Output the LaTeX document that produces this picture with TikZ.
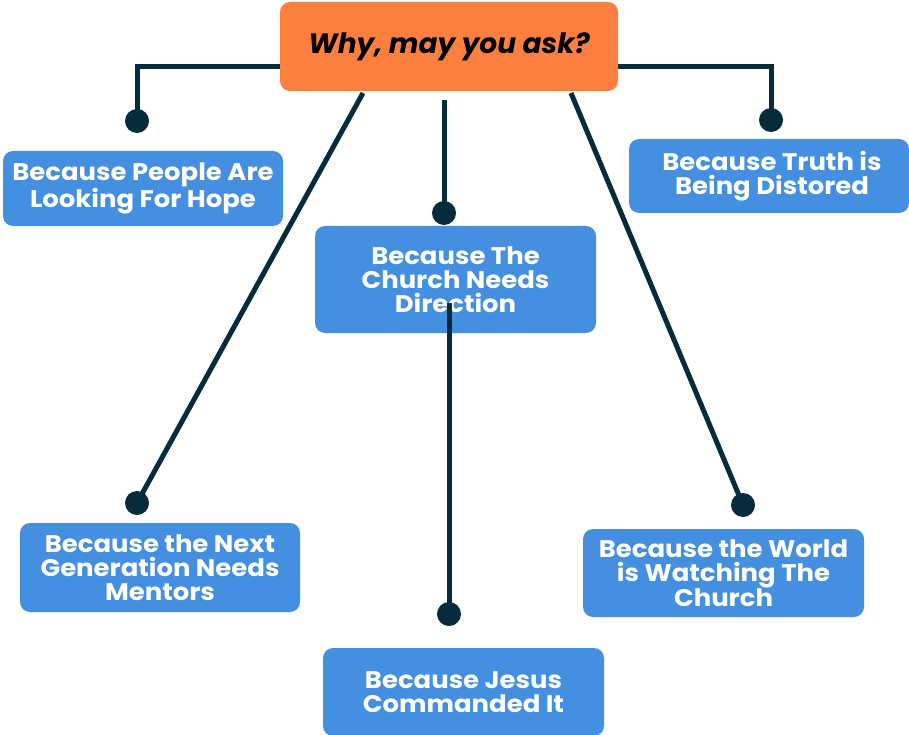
\documentclass[tikz,border=0pt]{standalone}
\usepackage{fontspec}
\setmainfont{Poppins}
\definecolor{orangebox}{HTML}{FF7F3F}
\definecolor{bluebox}{HTML}{448FE0}
\definecolor{navyline}{HTML}{062B3B}
\begin{document}
\begin{tikzpicture}[x=1pt,y=-1pt,
  reason/.style={fill=bluebox, rounded corners=10pt, inner sep=0pt, text=white, align=center,
    font=\bfseries\addfontfeatures{FakeStretch=1.08}\fontsize{24}{24}\selectfont},
  titlebox/.style={fill=orangebox, rounded corners=10pt, inner sep=0pt, text=black,
    font=\bfseries\itshape\fontsize{28}{30}\selectfont},
  dot/.style={circle, fill=navyline, minimum size=24pt, inner sep=0pt},
  link/.style={draw=navyline, line width=5pt}]
\useasboundingbox (0,0) rectangle (909,735);
% reason boxes
\node[reason, minimum width=280pt, minimum height=75pt] (hope) at (143,188.5) {Because People Are\\Looking For Hope};
\node[reason, minimum width=281pt, minimum height=107pt] (church) at (455.5,279.5) {Because The\\Church Needs\\Direction};
\node[reason, minimum width=280pt, minimum height=74pt] (truth) at (769,176) {\hspace*{6pt}Because Truth is\\\hspace*{6pt}Being Distored};
\node[reason, minimum width=280pt, minimum height=89pt] (next) at (160,567.5) {Because the Next\\Generation Needs\\Mentors};
\node[reason, minimum width=281pt, minimum height=88pt] (jesus) at (463.5,692) {Because Jesus\\Commanded It};
\node[reason, minimum width=281pt, minimum height=88pt] (world) at (723.5,573) {Because the World\\is Watching The\\Church};
% dots
\node[dot] (d1) at (137,121) {};
\node[dot] (d2) at (771,120) {};
\node[dot] (d3) at (444,213) {};
\node[dot] (d4) at (137,503) {};
\node[dot] (d5) at (743,505) {};
\node[dot] (d6) at (449,614) {};
% connector starts
\coordinate (sL) at (300,67);
\coordinate (sR) at (600,67);
\coordinate (sC) at (444,100);
\coordinate (sDL) at (363,93);
\coordinate (sDR) at (571,93);
\coordinate (sM) at (449,303);
\draw[link] (sL) -| (d1.center);
\draw[link] (sR) -| (d2.center);
\draw[link] (sC) -- (d3.center);
\draw[link] (sDL) -- (d4.center);
\draw[link] (sDR) -- (d5.center);
\draw[link] (sM) -- (d6.center);
% title
\node[titlebox, minimum width=338pt, minimum height=89pt] (title) at (449,46.5) {Why, may you ask?};
\end{tikzpicture}
\end{document}
